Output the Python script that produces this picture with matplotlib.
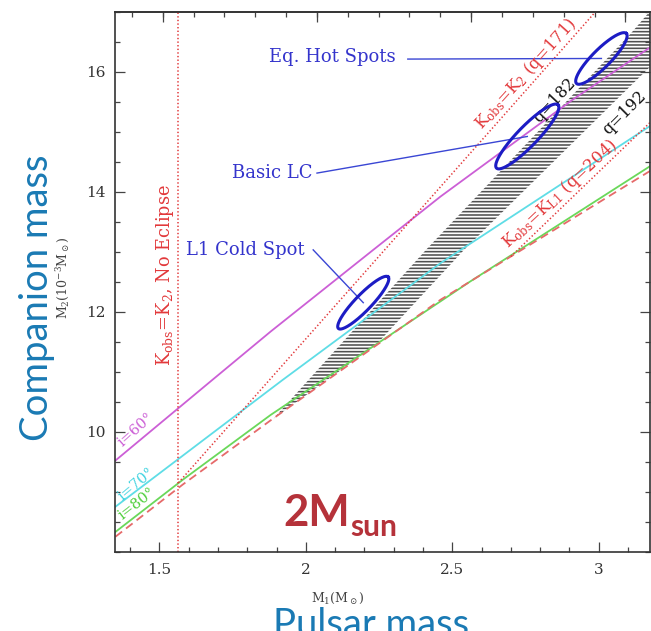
import numpy as np
import matplotlib
matplotlib.use("Agg")
import matplotlib.pyplot as plt
from matplotlib.ticker import MultipleLocator, FixedLocator, NullFormatter

plt.rcParams["font.family"] = ["DejaVu Serif"]
plt.rcParams["mathtext.fontset"] = "dejavuserif"
plt.rcParams["hatch.linewidth"] = 1.15
plt.rcParams["lines.scale_dashes"] = False

# ---- data: M1 in solar masses, M2 in 1e-3 solar masses ----
# mass-function curves for i = 60, 70, 80 deg and the edge-on limit
m1_i60 = [1.35, 1.68, 1.88, 2.23, 2.46, 2.91, 3.18]
m2_i60 = [9.52, 10.86, 11.67, 13.03, 13.92, 15.53, 16.42]
m1_i70 = [1.35, 1.92, 2.46, 3.18]
m2_i70 = [8.75, 10.86, 12.81, 15.11]
m1_i80 = [1.35, 1.58, 1.88, 2.56, 3.18]
m2_i80 = [8.33, 9.20, 10.28, 12.50, 14.44]
m1_i90 = [1.35, 1.58, 1.88, 2.46, 3.18]
m2_i90 = [8.25, 9.12, 10.19, 12.20, 14.36]

# radial-velocity constraints
m1_no_eclipse = 1.565
m1_q171 = [1.565, 3.00]
m2_q171 = [9.15, 17.06]
m1_q204 = [2.70, 3.20]
m2_q204 = [12.92, 15.27]

# allowed band between q=182 and q=192
band_left_m1 = [1.89, 2.41, 3.11, 3.20]
band_left_m2 = [10.22, 13.03, 16.64, 17.15]
band_right_m1 = [2.24, 2.54, 3.06, 3.20]
band_right_m2 = [11.45, 13.03, 15.53, 16.20]

# light-curve fit error ellipses
fit_labels = ["L1 Cold Spot", "Basic LC", "Eq. Hot Spots"]
fit_m1 = [2.196, 2.756, 3.009]
fit_m2 = [12.15, 14.92, 16.22]
fit_major_m1 = [0.085, 0.105, 0.085]
fit_major_m2 = [0.430, 0.528, 0.417]
fit_minor_m1 = [0.020, 0.0245, 0.022]
fit_minor_m2 = [-0.093, -0.116, -0.106]
fit_label_m1 = [1.591, 1.747, 1.874]
fit_label_m2 = [13.03, 14.31, 16.25]
fit_leader_m1 = [2.025, 2.038, 2.348]
fit_leader_m2 = [13.03, 14.31, 16.21]

xticks = [1.5, 2, 2.5, 3]
xticklabels = ["1.5", "2", "2.5", "3"]
yticks = [10, 12, 14, 16]
yticklabels = ["10", "12", "14", "16"]

# ---- figure ----
fig = plt.figure(figsize=(6.51, 6.31), dpi=100)
ax = fig.add_axes([0.1774, 0.1257, 0.8211, 0.8558])
ax.set_xlim(1.35, 3.175)
ax.set_ylim(8, 17)

c_mag, c_cyan, c_green = "#cc5fd6", "#5fdde6", "#6ad85a"
c_red, c_dash = "#e2383a", "#e66a6a"
c_blue = "#1c1cc4"

# hatched band
poly_x = band_left_m1 + band_right_m1[::-1]
poly_y = band_left_m2 + band_right_m2[::-1]
ax.fill(poly_x, poly_y, facecolor="white", edgecolor="#505050",
        hatch="-----", linewidth=0, zorder=1)

ax.plot(m1_i60, m2_i60, color=c_mag, lw=1.3, zorder=2)
ax.plot(m1_i70, m2_i70, color=c_cyan, lw=1.3, zorder=2)
ax.plot(m1_i80, m2_i80, color=c_green, lw=1.3, zorder=2)
ax.plot(m1_i90, m2_i90, color=c_dash, lw=1.3, linestyle=(0, (6, 3.6)), zorder=2)

dot = (0, (1.0, 1.6))
ax.axvline(m1_no_eclipse, color=c_red, lw=1.1, linestyle=dot, zorder=2)
ax.plot(m1_q171, m2_q171, color=c_red, lw=1.1, linestyle=dot, zorder=2)
ax.plot(m1_q204, m2_q204, color=c_red, lw=1.1, linestyle=dot, zorder=2)

t = np.linspace(0, 2 * np.pi, 300)
for k in range(len(fit_labels)):
    ex = fit_m1[k] + fit_major_m1[k] * np.cos(t) + fit_minor_m1[k] * np.sin(t)
    ey = fit_m2[k] + fit_major_m2[k] * np.cos(t) + fit_minor_m2[k] * np.sin(t)
    ax.plot(ex, ey, color=c_blue, lw=2.2, zorder=4)
    ax.plot([fit_leader_m1[k], fit_m1[k]], [fit_leader_m2[k], fit_m2[k]],
            color="#3a46d4", lw=1.0, zorder=3)
    ax.text(fit_label_m1[k], fit_label_m2[k], fit_labels[k], color="#3434cc",
            fontsize=13, ha="left", va="center", zorder=5)

# curve labels
ax.text(1.42, 10.03, "i=60°", color=c_mag, fontsize=10.5, rotation=42,
        ha="center", va="center", rotation_mode="anchor")
ax.text(1.422, 9.12, "i=70°", color="#3fd3e0", fontsize=10.5, rotation=40,
        ha="center", va="center", rotation_mode="anchor")
ax.text(1.422, 8.795, "i=80°", color="#4fcf3c", fontsize=10.5, rotation=38,
        ha="center", va="center", rotation_mode="anchor")
ax.text(2.753, 15.97, r"K$_{\rm obs}$=K$_2$ (q=171)", color=c_red, fontsize=12,
        rotation=48, ha="center", va="center", rotation_mode="anchor")
ax.text(2.867, 13.97, r"K$_{\rm obs}$=K$_{\rm L1}$ (q=204)", color=c_red,
        fontsize=12, rotation=43, ha="center", va="center", rotation_mode="anchor")
ax.text(2.85, 15.53, "q=182", color="#111111", fontsize=11.5, rotation=47,
        ha="center", va="center", rotation_mode="anchor")
ax.text(3.089, 15.31, "q=192", color="#111111", fontsize=11.5, rotation=45,
        ha="center", va="center", rotation_mode="anchor")
ax.text(1.519, 12.61, r"K$_{\rm obs}$=K$_2$, No Eclipse", color=c_red,
        fontsize=12.8, rotation=90, ha="center", va="center")

# axes styling
for s in ax.spines.values():
    s.set_color("#333333")
    s.set_linewidth(1.2)
ax.set_xticks(xticks)
ax.set_xticklabels(xticklabels)
ax.set_yticks(yticks)
ax.set_yticklabels(yticklabels)
ax.xaxis.set_minor_locator(MultipleLocator(0.1))
ax.yaxis.set_minor_locator(MultipleLocator(0.5))
ax.tick_params(which="both", direction="in", top=False, right=True,
               colors="#444444", labelcolor="#333333", labelsize=11, width=0.9)
ax.tick_params(which="major", length=7.5)
ax.tick_params(which="minor", length=3.6)
ax.tick_params(axis="x", pad=8)
ax.tick_params(axis="y", pad=7)

top = ax.secondary_xaxis("top")
top.xaxis.set_major_locator(FixedLocator([1.512, 2.038, 2.565, 3.091]))
top.xaxis.set_minor_locator(FixedLocator(np.arange(1.406, 3.17, 0.1053)))
top.xaxis.set_major_formatter(NullFormatter())
top.tick_params(which="both", direction="in", colors="#444444", width=0.9)
top.tick_params(which="major", length=7.5)
top.tick_params(which="minor", length=3.6)
top.spines["top"].set_color("#333333")
top.spines["top"].set_linewidth(1.2)

ax.set_xlabel(r"M$_1$(M$_\odot$)", fontsize=9, color="#444444")
ax.xaxis.label.set_va("center")
ax.xaxis.set_label_coords(0.416, -0.0857)
ax.set_ylabel(r"M$_2$(10$^{-3}$M$_\odot$)", fontsize=9, color="#444444")
ax.yaxis.label.set_va("center")
ax.yaxis.set_label_coords(-0.0982, 0.507)

# overlaid annotations
blue = "#1a7ab4"
fig.text(0.074, 0.528, "Companion mass", family="Lato", fontsize=27.5,
         color=blue, rotation=90, ha="center", va="baseline",
         rotation_mode="anchor")
fig.text(0.570, -0.008, "Pulsar mass", family="Lato", fontsize=27.5,
         color=blue, ha="center", va="baseline")
t2m = fig.text(0.4347, 0.1664, "2M", family="Lato", fontsize=31.5,
               fontweight="bold", color="#b5323a", ha="left", va="baseline")
ax.annotate("sun", xy=(1, 0), xycoords=t2m, xytext=(0.5, -2.5),
            textcoords="offset points", family="Lato", fontsize=21.5,
            fontweight="bold", color="#b5323a", ha="left", va="baseline",
            annotation_clip=False)

fig.savefig("out.png", dpi=100)
